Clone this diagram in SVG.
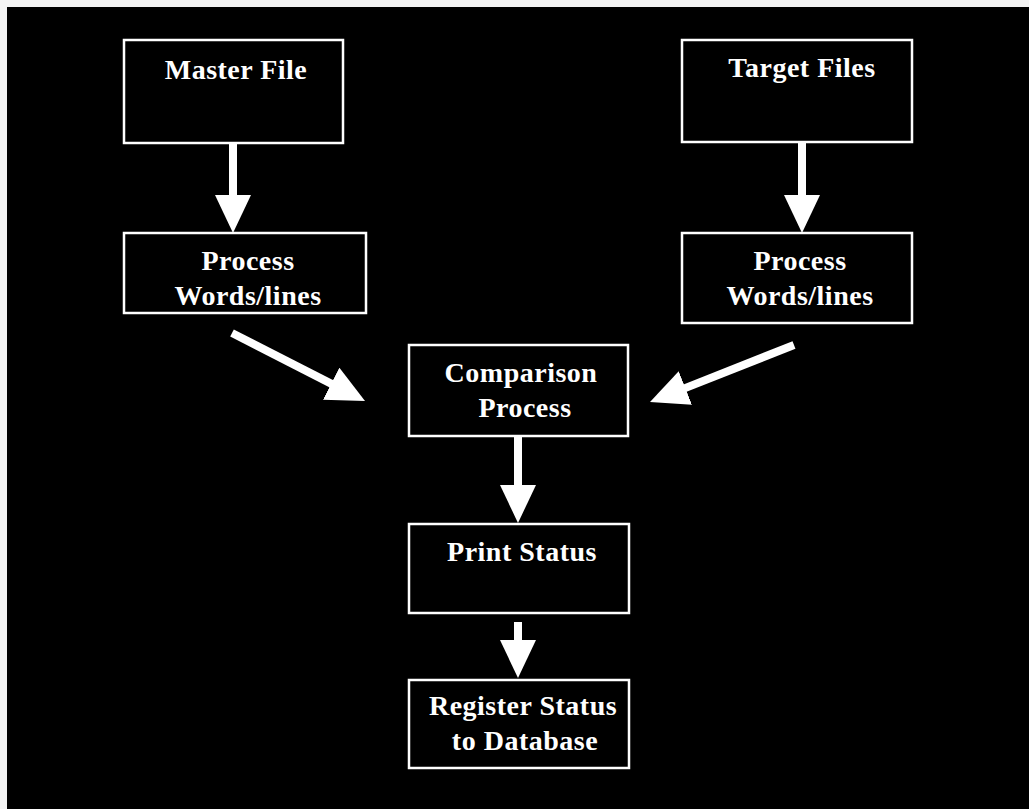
<svg xmlns="http://www.w3.org/2000/svg" width="1029" height="809" viewBox="0 0 1029 809">
<style>
.box{fill:#000;stroke:#fff;stroke-width:2.5}
.lbl{font-family:"Liberation Serif","Times New Roman",serif;font-weight:bold;font-size:28px;fill:#fff;text-anchor:middle;letter-spacing:0.5px}
.arr{stroke:#fff;stroke-width:8;fill:none;marker-end:url(#head)}
</style>
<defs>
<marker id="head" markerUnits="userSpaceOnUse" markerWidth="38" markerHeight="36" viewBox="0 0 38 36" refX="18" refY="18" orient="auto">
<path d="M0,0 L38,18 L0,36 Z" fill="#fff"/>
</marker>
</defs>
<rect x="0" y="0" width="1029" height="809" fill="#f4f4f4"/>
<rect x="7" y="7" width="1022" height="802" fill="#000"/>
<g id="connectors">
<line class="arr" x1="233" y1="143" x2="233" y2="213"/>
<line class="arr" x1="802" y1="142" x2="802" y2="213"/>
<line class="arr" x1="232" y1="333" x2="347.2" y2="391.9"/>
<line class="arr" x1="794" y1="345" x2="668.6" y2="394.6"/>
<line class="arr" x1="518" y1="436" x2="518" y2="503"/>
<line class="arr" x1="518" y1="622" x2="518" y2="658"/>
</g>
<g id="master">
<rect class="box" x="124" y="40" width="219" height="103"/>
<text class="lbl" x="236" y="79">Master File</text>
</g>
<g id="processLeft">
<rect class="box" x="124" y="233" width="242" height="80"/>
<text class="lbl" x="248" y="270">Process</text>
<text class="lbl" x="248" y="305">Words/lines</text>
</g>
<g id="target">
<rect class="box" x="682" y="40" width="230" height="102"/>
<text class="lbl" x="802" y="77">Target Files</text>
</g>
<g id="processRight">
<rect class="box" x="682" y="233" width="230" height="90"/>
<text class="lbl" x="800" y="270">Process</text>
<text class="lbl" x="800" y="305">Words/lines</text>
</g>
<g id="comparison">
<rect class="box" x="409" y="345" width="219" height="91"/>
<text class="lbl" x="521" y="382">Comparison</text>
<text class="lbl" x="525" y="417">Process</text>
</g>
<g id="print">
<rect class="box" x="409" y="524" width="220" height="89"/>
<text class="lbl" x="522" y="561">Print Status</text>
</g>
<g id="register">
<rect class="box" x="409" y="680" width="220" height="88"/>
<text class="lbl" x="523" y="715">Register Status</text>
<text class="lbl" x="525" y="750">to Database</text>
</g>
</svg>
